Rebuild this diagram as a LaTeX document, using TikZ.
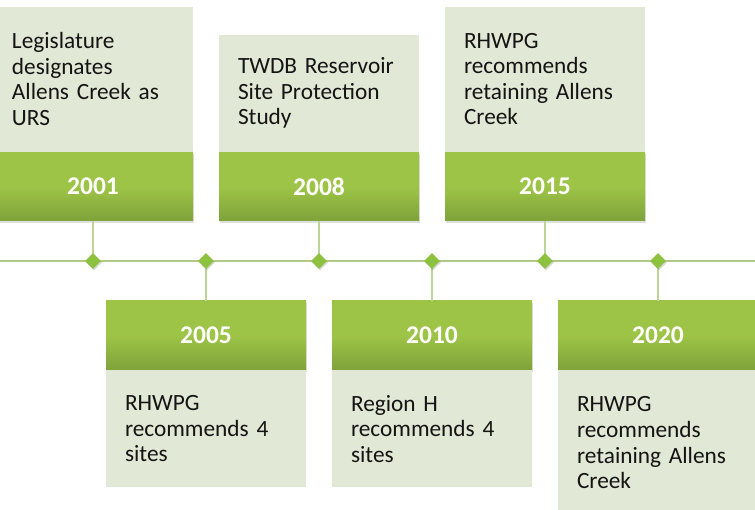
\documentclass[tikz,border=0pt]{standalone}
\usepackage{fontspec}
\setmainfont{Carlito}
\usetikzlibrary{positioning,shapes.geometric,shadows}

\definecolor{bandtop}{HTML}{9DC447}
\definecolor{bandbot}{HTML}{7FA23A}
\definecolor{notefill}{HTML}{E1E8D5}
\definecolor{linegreen}{HTML}{B2CB84}
\definecolor{stemgreen}{HTML}{BDD596}
\definecolor{dotgreen}{HTML}{8DC13F}

\tikzset{
	yearbox/.style={rectangle, minimum width=200pt, minimum height=69pt, inner sep=0pt,
		top color=bandtop, bottom color=bandbot, middle color=bandtop, text=white,
		font=\fontsize{25.5}{30}\selectfont\bfseries,
		drop shadow={opacity=.25, shadow xshift=.5pt, shadow yshift=-2pt}},
	notebox/.style={rectangle, fill=notefill, text width=162pt, inner xsep=19pt, inner ysep=0pt,
		align=left, text=black!92, font=\fontsize{23.3}{25.6}\selectfont},
	marker/.style={diamond, fill=dotgreen, minimum size=16pt, inner sep=0pt,
		drop shadow={opacity=.3, shadow xshift=1pt, shadow yshift=-1.5pt}},
	timeline/.style={linegreen, line width=1.5pt},
	stem/.style={stemgreen, line width=1.5pt}
}

\begin{document}
\begin{tikzpicture}[x=1pt,y=-1pt]
	
	\useasboundingbox (0,0) rectangle (755,510);
	
	\coordinate (tlstart) at (0,261);
	\coordinate (tlend) at (755,261);
	\coordinate (p2001) at (93,261);
	\coordinate (p2005) at (206,261);
	\coordinate (p2008) at (319,261);
	\coordinate (p2010) at (432,261);
	\coordinate (p2015) at (545,261);
	\coordinate (p2020) at (658,261);
	
	% year bands
	\node[yearbox] (yr2001) at (93,186.5) {2001};
	\node[yearbox] (yr2008) at (319,186.5) {2008};
	\node[yearbox] (yr2015) at (545,186.5) {2015};
	\node[yearbox] (yr2005) at (206,335.5) {2005};
	\node[yearbox] (yr2010) at (432,335.5) {2010};
	\node[yearbox] (yr2020) at (658,335.5) {2020};
	
	% notes
	\node[notebox, minimum height=145pt, above=0pt of yr2001] (txt2001) {Legislature\\designates\\Allens Creek as\\URS};
	\node[notebox, minimum height=117pt, above=0pt of yr2008] (txt2008) {TWDB Reservoir\\Site Protection\\Study};
	\node[notebox, minimum height=145pt, above=0pt of yr2015] (txt2015) {RHWPG\\recommends\\retaining Allens\\Creek};
	\node[notebox, minimum height=117pt, below=0pt of yr2005] (txt2005) {RHWPG\\recommends 4\\sites};
	\node[notebox, minimum height=117pt, below=0pt of yr2010] (txt2010) {Region H\\recommends 4\\sites};
	\node[notebox, minimum height=145pt, below=0pt of yr2020] (txt2020) {RHWPG\\recommends\\retaining Allens\\Creek};
	
	\draw[timeline] (tlstart) -- (tlend);
	\draw[stem] (yr2001.south) -- (p2001);
	\draw[stem] (yr2008.south) -- (p2008);
	\draw[stem] (yr2015.south) -- (p2015);
	\draw[stem] (yr2005.north) -- (p2005);
	\draw[stem] (yr2010.north) -- (p2010);
	\draw[stem] (yr2020.north) -- (p2020);
	
	\node[marker] (d2001) at (p2001) {};
	\node[marker] (d2005) at (p2005) {};
	\node[marker] (d2008) at (p2008) {};
	\node[marker] (d2010) at (p2010) {};
	\node[marker] (d2015) at (p2015) {};
	\node[marker] (d2020) at (p2020) {};
	
\end{tikzpicture}
\end{document}
